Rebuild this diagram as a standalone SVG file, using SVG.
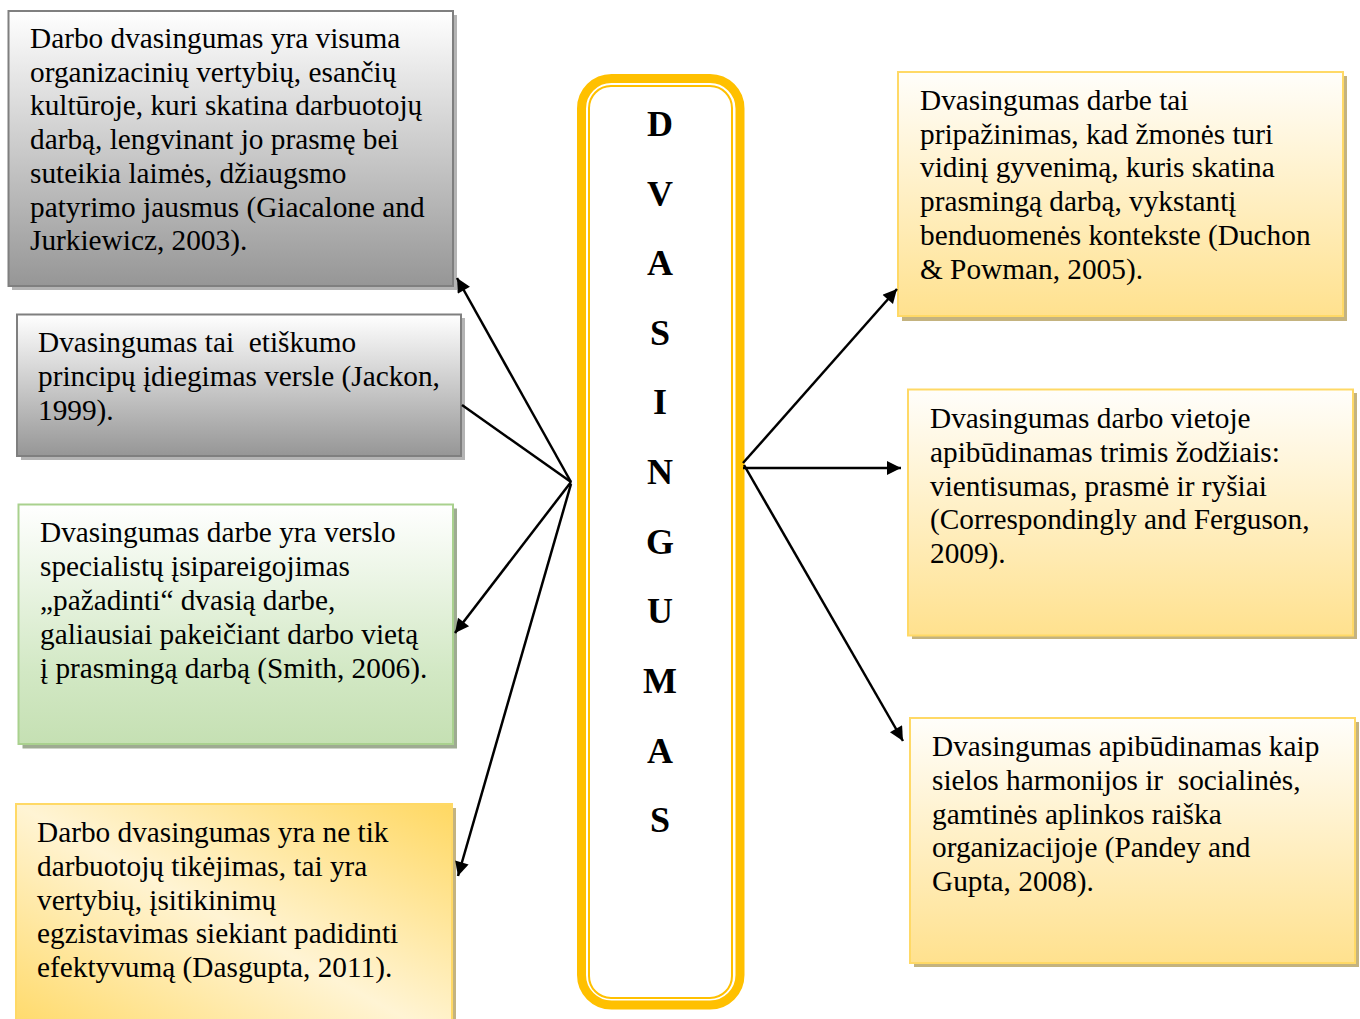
<svg xmlns="http://www.w3.org/2000/svg" width="1360" height="1019" viewBox="0 0 1360 1019">
  <defs>
    <linearGradient id="gGray" x1="0" y1="0" x2="0" y2="1">
      <stop offset="0" stop-color="#ffffff"/>
      <stop offset="1" stop-color="#969696"/>
    </linearGradient>
    <linearGradient id="gGreen" x1="0" y1="0" x2="0" y2="1">
      <stop offset="0" stop-color="#ffffff"/>
      <stop offset="0.7" stop-color="#d2e8c4"/>
      <stop offset="1" stop-color="#c5e0b3"/>
    </linearGradient>
    <linearGradient id="gYellow" x1="0" y1="0" x2="0" y2="1">
      <stop offset="0" stop-color="#fffefb"/>
      <stop offset="1" stop-color="#ffe18e"/>
    </linearGradient>
    <linearGradient id="gYellowDiag" x1="1" y1="0" x2="0" y2="1">
      <stop offset="0" stop-color="#ffd862"/>
      <stop offset="0.5" stop-color="#fff4d4"/>
      <stop offset="1" stop-color="#ffd862"/>
    </linearGradient>
    <marker id="arrow" viewBox="0 0 10 10" refX="10" refY="5" markerWidth="17" markerHeight="14" markerUnits="userSpaceOnUse" orient="auto">
      <path d="M0,0 L10,5 L0,10 z" fill="#000"/>
    </marker>
  </defs>
  <style>
    .txt { font-family: "Liberation Serif", "Times New Roman", serif; font-size: 29.3px; fill: #000; white-space: pre; }
    .letter { font-family: "Liberation Serif", "Times New Roman", serif; font-size: 36px; font-weight: bold; fill: #000; text-anchor: middle; }
    .gray { fill: url(#gGray); stroke: #7f7f7f; stroke-width: 2; }
    .green { fill: url(#gGreen); stroke: #a9d18e; stroke-width: 2; }
    .yellow { fill: url(#gYellow); stroke: #ffd966; stroke-width: 2; }
    .yellowDiag { fill: url(#gYellowDiag); stroke: #ffd966; stroke-width: 2; }
    .shGray { fill: #b4b4b4; }
    .shGreen { fill: #9eab92; }
    .shYellow { fill: #c4b37f; }
    .conn { stroke: #000; stroke-width: 2.5; fill: none; }
  </style>

  <rect width="1360" height="1019" fill="#ffffff"/>

  <!-- left column -->
  <g id="box-giacalone">
    <rect class="shGray" x="12" y="15" width="445" height="275"/>
    <rect class="gray" x="8.5" y="11" width="444.5" height="275"/>
    <text class="txt">
      <tspan x="30" y="48">Darbo dvasingumas yra visuma</tspan>
      <tspan x="30" y="82">organizacinių vertybių, esančių</tspan>
      <tspan x="30" y="115">kultūroje, kuri skatina darbuotojų</tspan>
      <tspan x="30" y="149">darbą, lengvinant jo prasmę bei</tspan>
      <tspan x="30" y="183">suteikia laimės, džiaugsmo</tspan>
      <tspan x="30" y="217">patyrimo jausmus (Giacalone and</tspan>
      <tspan x="30" y="250">Jurkiewicz, 2003).</tspan>
    </text>
  </g>

  <g id="box-jackon">
    <rect class="shGray" x="21" y="318" width="444" height="142"/>
    <rect class="gray" x="17" y="314.5" width="444" height="141.5"/>
    <text class="txt">
      <tspan x="38" y="352">Dvasingumas tai  etiškumo</tspan>
      <tspan x="38" y="386">principų įdiegimas versle (Jackon,</tspan>
      <tspan x="38" y="420">1999).</tspan>
    </text>
  </g>

  <g id="box-smith">
    <rect class="shGreen" x="22.5" y="508.5" width="434.5" height="240"/>
    <rect class="green" x="18.5" y="504.5" width="434.5" height="239.5"/>
    <text class="txt">
      <tspan x="40" y="542">Dvasingumas darbe yra verslo</tspan>
      <tspan x="40" y="576">specialistų įsipareigojimas</tspan>
      <tspan x="40" y="610">„pažadinti“ dvasią darbe,</tspan>
      <tspan x="40" y="644">galiausiai pakeičiant darbo vietą</tspan>
      <tspan x="40" y="678">į prasmingą darbą (Smith, 2006).</tspan>
    </text>
  </g>

  <g id="box-dasgupta">
    <rect class="shYellow" x="20" y="808" width="436" height="240"/>
    <rect class="yellowDiag" x="16" y="804" width="436" height="240"/>
    <text class="txt">
      <tspan x="37" y="842">Darbo dvasingumas yra ne tik</tspan>
      <tspan x="37" y="876">darbuotojų tikėjimas, tai yra</tspan>
      <tspan x="37" y="910">vertybių, įsitikinimų</tspan>
      <tspan x="37" y="943">egzistavimas siekiant padidinti</tspan>
      <tspan x="37" y="977">efektyvumą (Dasgupta, 2011).</tspan>
    </text>
  </g>

  <!-- central column -->
  <g id="center-dvasingumas">
    <rect x="581.5" y="78.5" width="158.5" height="926.5" rx="30" ry="30" fill="#ffffff" stroke="#ffc000" stroke-width="9"/>
    <rect x="589" y="86" width="143" height="912" rx="22" ry="22" fill="none" stroke="#ffc000" stroke-width="2"/>
    <text class="letter" x="660" y="136">D</text>
    <text class="letter" x="660" y="206">V</text>
    <text class="letter" x="660" y="275">A</text>
    <text class="letter" x="660" y="345">S</text>
    <text class="letter" x="660" y="414">I</text>
    <text class="letter" x="660" y="484">N</text>
    <text class="letter" x="660" y="554">G</text>
    <text class="letter" x="660" y="623">U</text>
    <text class="letter" x="660" y="693">M</text>
    <text class="letter" x="660" y="763">A</text>
    <text class="letter" x="660" y="832">S</text>
  </g>

  <!-- right column -->
  <g id="box-duchon">
    <rect class="shYellow" x="902" y="76" width="445" height="245"/>
    <rect class="yellow" x="898" y="72" width="445" height="244"/>
    <text class="txt">
      <tspan x="920" y="110">Dvasingumas darbe tai</tspan>
      <tspan x="920" y="144">pripažinimas, kad žmonės turi</tspan>
      <tspan x="920" y="177">vidinį gyvenimą, kuris skatina</tspan>
      <tspan x="920" y="211">prasmingą darbą, vykstantį</tspan>
      <tspan x="920" y="245">benduomenės kontekste (Duchon</tspan>
      <tspan x="920" y="279">&amp; Powman, 2005).</tspan>
    </text>
  </g>

  <g id="box-ferguson">
    <rect class="shYellow" x="912" y="393" width="445" height="246"/>
    <rect class="yellow" x="908" y="389.5" width="445" height="246"/>
    <text class="txt">
      <tspan x="930" y="428">Dvasingumas darbo vietoje</tspan>
      <tspan x="930" y="462">apibūdinamas trimis žodžiais:</tspan>
      <tspan x="930" y="496">vientisumas, prasmė ir ryšiai</tspan>
      <tspan x="930" y="529">(Correspondingly and Ferguson,</tspan>
      <tspan x="930" y="563">2009).</tspan>
    </text>
  </g>

  <g id="box-pandey">
    <rect class="shYellow" x="914" y="722" width="445" height="245"/>
    <rect class="yellow" x="910" y="718" width="445" height="245"/>
    <text class="txt">
      <tspan x="932" y="756">Dvasingumas apibūdinamas kaip</tspan>
      <tspan x="932" y="790">sielos harmonijos ir  socialinės,</tspan>
      <tspan x="932" y="824">gamtinės aplinkos raiška</tspan>
      <tspan x="932" y="857">organizacijoje (Pandey and</tspan>
      <tspan x="932" y="891">Gupta, 2008).</tspan>
    </text>
  </g>

  <!-- connectors -->
  <g id="connectors">
    <line class="conn" x1="571" y1="482" x2="457" y2="278" marker-end="url(#arrow)"/>
    <line class="conn" x1="571" y1="482" x2="462" y2="405"/>
    <line class="conn" x1="571" y1="482" x2="455" y2="633" marker-end="url(#arrow)"/>
    <line class="conn" x1="571" y1="484" x2="458" y2="876" marker-end="url(#arrow)"/>
    <line class="conn" x1="743" y1="463" x2="897" y2="289" marker-end="url(#arrow)"/>
    <line class="conn" x1="743" y1="468" x2="901" y2="468" marker-end="url(#arrow)"/>
    <line class="conn" x1="744" y1="465" x2="903" y2="741" marker-end="url(#arrow)"/>
  </g>
</svg>
